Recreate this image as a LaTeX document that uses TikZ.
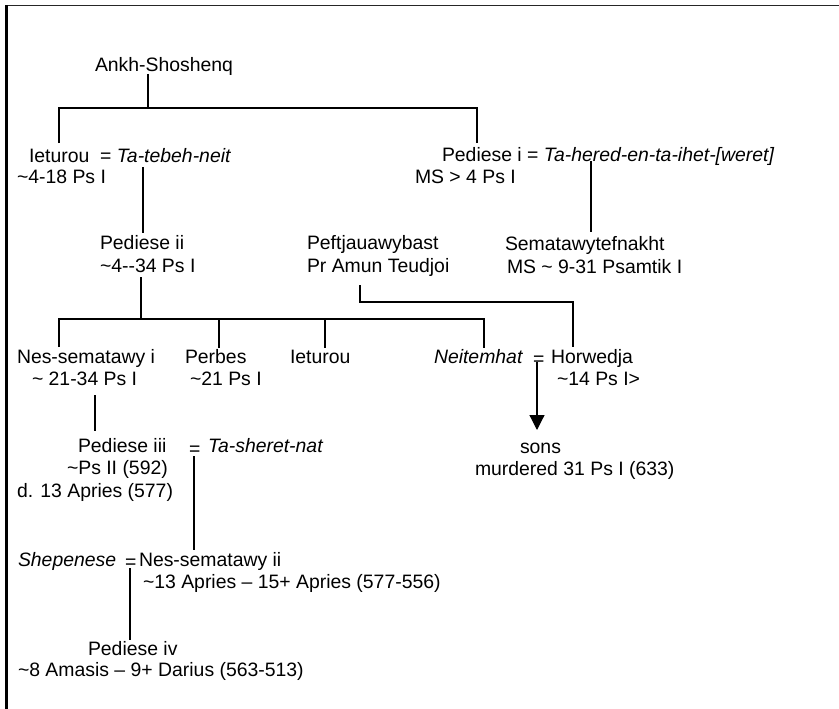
\documentclass[tikz,border=0pt]{standalone}
\usepackage{fontspec}
\setmainfont{Liberation Sans}
\usetikzlibrary{arrows.meta}
\begin{document}
\begin{tikzpicture}[x=1pt,y=-1pt,
  lbl/.style={anchor=base west,inner sep=0pt,outer sep=0pt,font=\fontsize{19.4}{23}\selectfont},
  conn/.style={draw=black,line width=1.2pt},
  framel/.style={draw=black!85,line width=1.6pt}]
\useasboundingbox (0,0) rectangle (839,709);
% frame (top and left edges visible)
\coordinate (ftr) at (839,5.5);
\coordinate (ftl) at (6.5,5.5);
\coordinate (fbl) at (6.5,709);
\draw[framel] (ftr) -- (ftl);
\draw[black,line width=2.2pt] (ftl) -- (fbl);

% texts
\node[lbl] (ank) at (95,72) {Ankh-Shoshenq};
\node[lbl] (iet1) at (29,162) {Ieturou\ \ = \textit{Ta-tebeh-neit}};
\node[lbl] (iet1d) at (17,183) {\textasciitilde4-18 Ps I};
\node[lbl] (ped1) at (442,161) {Pediese i = \textit{Ta-hered-en-ta-ihet-[weret]}};
\node[lbl] (ped1d) at (415,183) {MS > 4 Ps I};
\node[lbl] (ped2) at (100,249) {Pediese ii};
\node[lbl] (ped2d) at (100,272) {\textasciitilde4-{}-34 Ps I};
\node[lbl] (peft) at (307,249) {Peftjauawybast};
\node[lbl] (peftd) at (307,272) {Pr Amun Teudjoi};
\node[lbl] (sema) at (505,250) {Sematawytefnakht};
\node[lbl] (semad) at (507,273) {MS \textasciitilde\ 9-31 Psamtik I};
\node[lbl] (nes1) at (17,363) {Nes-sematawy i};
\node[lbl] (nes1d) at (32,385) {\textasciitilde\ 21-34 Ps I};
\node[lbl] (perb) at (185,363) {Perbes};
\node[lbl] (perbd) at (190,385) {\textasciitilde21 Ps I};
\node[lbl] (iet2) at (290,363) {Ieturou};
\node[lbl] (neit) at (434,363) {\textit{Neitemhat}};
\node[lbl] (eq1) at (533,365) {=};
\node[lbl] (horw) at (551,363) {Horwedja};
\node[lbl] (horwd) at (557,385) {\textasciitilde14 Ps I>};
\node[lbl] (sons) at (520,453) {sons};
\node[lbl] (sonsd) at (475,475) {murdered 31 Ps I (633)};
\node[lbl] (ped3) at (78,452) {Pediese iii};
\node[lbl] (eq2) at (189,455) {=};
\node[lbl] (tash) at (208,452) {\textit{Ta-sheret-nat}};
\node[lbl] (ped3d) at (67,474) {\textasciitilde Ps II (592)};
\node[lbl] (ped3e) at (17,497) {d. 13 Apries (577)};
\node[lbl] (shep) at (18,566) {\textit{Shepenese}};
\node[lbl] (eq3) at (125,568) {=};
\node[lbl] (nes2) at (139,566) {Nes-sematawy ii};
\node[lbl] (nes2d) at (143,588) {\textasciitilde13 Apries -- 15+ Apries (577-556)};
\node[lbl] (ped4) at (88,655) {Pediese iv};
\node[lbl] (ped4d) at (18,676) {\textasciitilde8 Amasis -- 9+ Darius (563-513)};

% connector coordinates
\coordinate (a1) at (148,74);
\coordinate (a2) at (148,108);
\coordinate (a3) at (59,108);
\coordinate (a4) at (59,143);
\coordinate (a5) at (477,108);
\coordinate (a6) at (477,143);
\draw[conn] (a1) -- (a2);
\draw[conn] (a4) -- (a3) -- (a5) -- (a6);

\coordinate (b1) at (143,167);
\coordinate (b2) at (143,233);
\draw[conn] (b1) -- (b2);

\coordinate (c1) at (591,161);
\coordinate (c2) at (591,232);
\draw[conn] (c1) -- (c2);

\coordinate (d1) at (141,277);
\coordinate (d2) at (141,319);
\coordinate (d3) at (59,319);
\coordinate (d4) at (484,319);
\coordinate (d5) at (59,347);
\coordinate (d6) at (219,319);
\coordinate (d7) at (219,348);
\coordinate (d8) at (325,319);
\coordinate (d9) at (325,348);
\coordinate (d10) at (484,348);
\draw[conn] (d1) -- (d2);
\draw[conn] (d5) -- (d3) -- (d4) -- (d10);
\draw[conn] (d6) -- (d7);
\draw[conn] (d8) -- (d9);

\coordinate (e1) at (360,285);
\coordinate (e2) at (360,302);
\coordinate (e3) at (573,302);
\coordinate (e4) at (573,347);
\draw[conn] (e1) -- (e2) -- (e3) -- (e4);

\coordinate (f1) at (537,362);
\coordinate (f2) at (537,430);
\draw[conn,-{Triangle[width=15,length=15]}] (f1) -- (f2);

\coordinate (g1) at (95,395);
\coordinate (g2) at (95,431);
\draw[conn] (g1) -- (g2);

\coordinate (h1) at (194,456);
\coordinate (h2) at (194,550);
\draw[conn] (h1) -- (h2);

\coordinate (i1) at (130,568);
\coordinate (i2) at (130,640);
\draw[conn] (i1) -- (i2);
\end{tikzpicture}
\end{document}
